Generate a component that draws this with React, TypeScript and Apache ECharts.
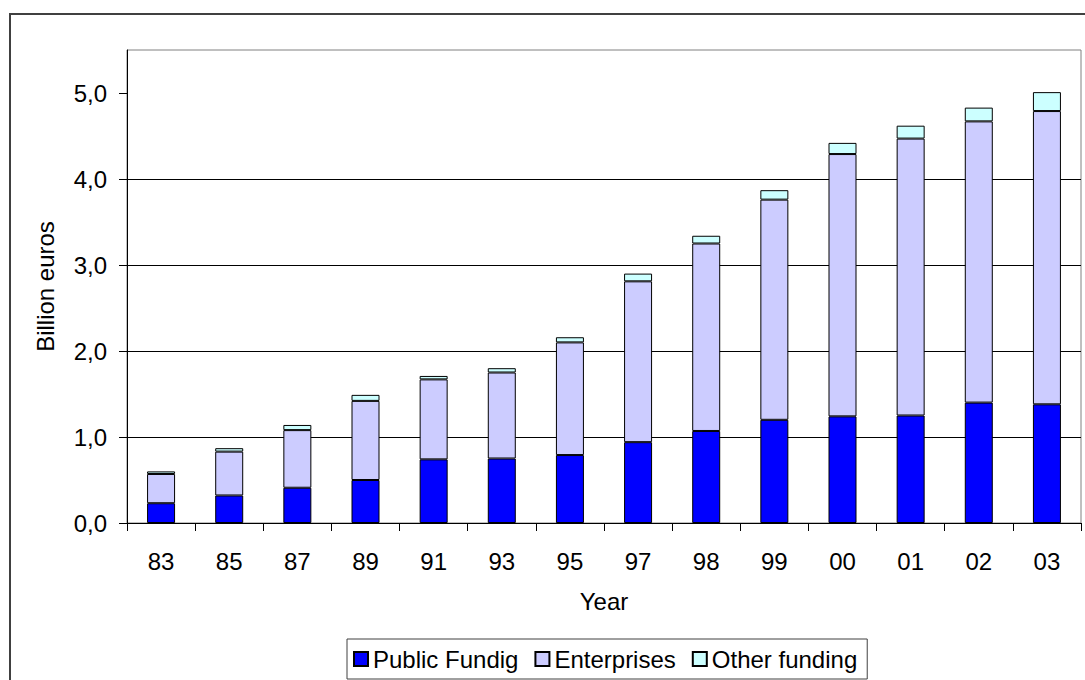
import React, { useEffect, useRef } from "react";
import * as echarts from "echarts";

const years = ["83", "85", "87", "89", "91", "93", "95", "97", "98", "99", "00", "01", "02", "03"];
const publicFunding = [0.23, 0.32, 0.41, 0.5, 0.74, 0.75, 0.79, 0.94, 1.07, 1.2, 1.24, 1.25, 1.4, 1.38];
const enterprises = [0.34, 0.51, 0.67, 0.92, 0.93, 1.0, 1.31, 1.87, 2.18, 2.56, 3.05, 3.22, 3.27, 3.41];
const otherFunding = [0.03, 0.04, 0.06, 0.07, 0.04, 0.05, 0.06, 0.09, 0.09, 0.11, 0.13, 0.15, 0.16, 0.22];
const yTicks = [0, 1, 2, 3, 4, 5];

const FONT = "'Liberation Sans', Arial, sans-serif";

export default function App() {
  const ref = useRef<HTMLDivElement>(null);
  useEffect(() => {
    document.body.style.margin = "0";
    if (!ref.current) return;
    const chart = echarts.init(ref.current, undefined, { renderer: "svg" });
    const bar = (name: string, data: number[], color: string) => ({
      name,
      type: "bar",
      stack: "total",
      data,
      barWidth: 28,
      itemStyle: { color, borderColor: "#000", borderWidth: 1 },
    });
    chart.setOption({
      animation: false,
      backgroundColor: "#fff",
      textStyle: { fontFamily: FONT, color: "#000" },
      graphic: [
        {
          type: "rect",
          shape: { x: 10, y: 14, width: 1200, height: 800 },
          style: { fill: "none", stroke: "#404040", lineWidth: 2 },
          silent: true,
          z: -10,
        },
      ],
      grid: {
        left: 127,
        top: 50,
        right: 4,
        bottom: 157,
        show: true,
        borderColor: "#808080",
        borderWidth: 1,
        containLabel: false,
      },
      legend: {
        left: 347,
        top: 639,
        orient: "horizontal",
        padding: [8, 10, 8, 6],
        borderColor: "#404040",
        borderWidth: 1,
        itemWidth: 14,
        itemHeight: 14,
        itemGap: 16,
        icon: "rect",
        textStyle: { fontFamily: FONT, fontSize: 24, color: "#000" },
        data: ["Public Fundig", "Enterprises", "Other funding"],
      },
      xAxis: {
        type: "category",
        data: years,
        name: "Year",
        nameLocation: "middle",
        nameGap: 66,
        nameTextStyle: { fontFamily: FONT, fontSize: 24, color: "#000" },
        axisLine: { show: true, lineStyle: { color: "#000", width: 1 } },
        axisTick: { show: true, length: 8, lineStyle: { color: "#000" } },
        axisLabel: { margin: 26, fontFamily: FONT, fontSize: 24, color: "#000" },
      },
      yAxis: {
        type: "value",
        min: 0,
        max: 5.5,
        interval: 1,
        name: "Billion euros",
        nameLocation: "middle",
        nameGap: 70,
        nameTextStyle: { fontFamily: FONT, fontSize: 24, color: "#000" },
        axisLine: { show: true, lineStyle: { color: "#000", width: 1 } },
        axisTick: { show: true, length: 8, lineStyle: { color: "#000" }, customValues: yTicks },
        axisLabel: {
          margin: 20,
          fontFamily: FONT,
          fontSize: 24,
          color: "#000",
          customValues: yTicks,
          formatter: (v: number) => (Number.isInteger(v) ? v.toFixed(1).replace(".", ",") : ""),
        },
        splitLine: { show: true, showMaxLine: false, lineStyle: { color: "#000", width: 1 } },
      },
      series: [
        bar("Public Fundig", publicFunding, "#0000FF"),
        bar("Enterprises", enterprises, "#CCCCFF"),
        bar("Other funding", otherFunding, "#CCFFFF"),
      ],
    });
    return () => chart.dispose();
  }, []);
  return <div ref={ref} style={{ width: 1085, height: 680 }} />;
}
